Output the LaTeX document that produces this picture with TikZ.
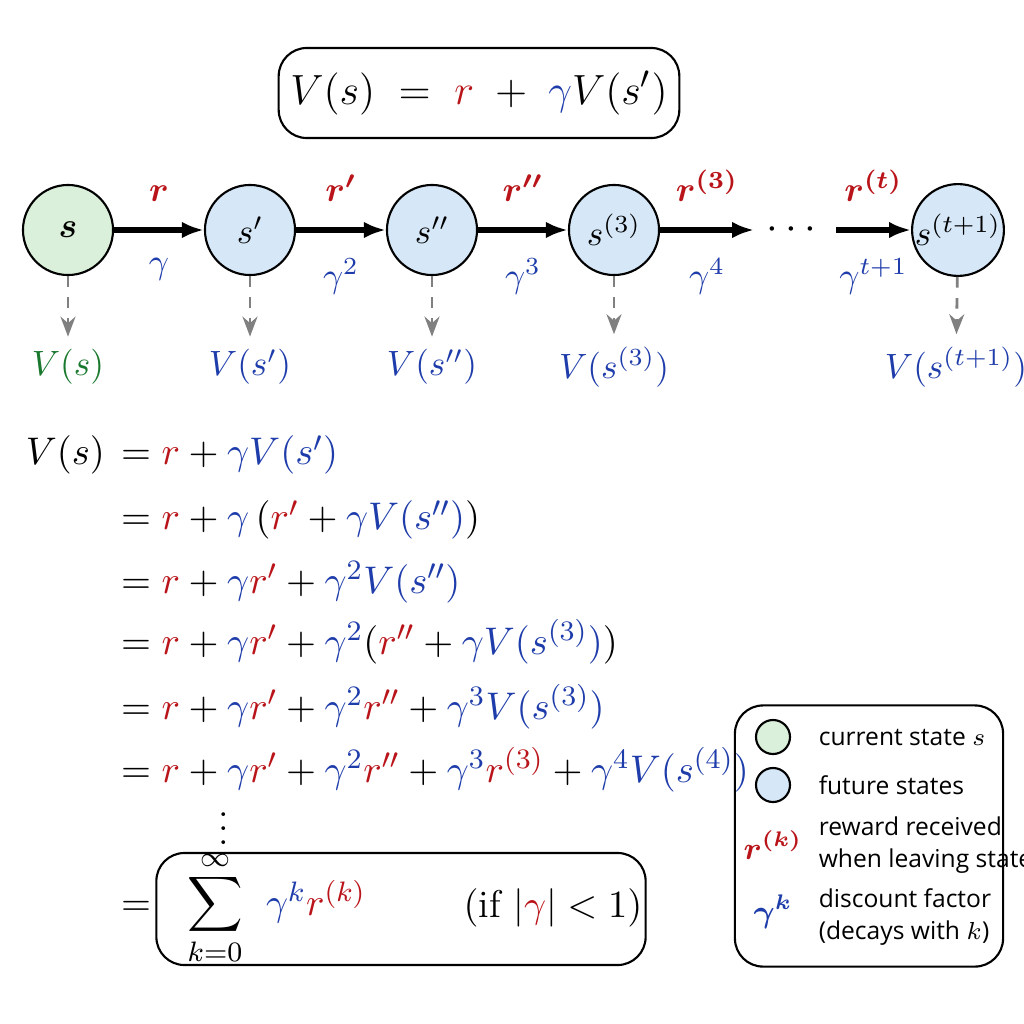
\documentclass[tikz,border=0pt]{standalone}
\usepackage{amsmath,bm}
\usepackage{fontspec}
\setsansfont{Open Sans}
\usetikzlibrary{arrows.meta,positioning}
\definecolor{myred}{RGB}{185,20,25}
\definecolor{myblue}{RGB}{30,60,170}
\definecolor{mygreen}{RGB}{25,120,45}
\definecolor{curfill}{RGB}{218,240,218}
\definecolor{futfill}{RGB}{214,232,248}
\newcommand{\rd}[1]{{\color{myred}#1}}
\newcommand{\bl}[1]{{\color{myblue}#1}}
\newcommand{\eqsize}{\fontsize{11}{13}\selectfont}
\begin{document}
\begin{tikzpicture}[x=0.01cm, y=-0.01cm, semithick
    , state/.style={circle, draw, minimum size=0.9cm, inner sep=0pt, font=\normalsize}
    , trans/.style={-{Latex[length=2.2mm]}, line width=1.5pt}
    , val/.style={-{Stealth[length=2mm]}, dashed, gray, thick}
    , eq/.style={anchor=west, inner sep=0pt, font=\eqsize}
    , legtext/.style={anchor=west, font=\sffamily\fontsize{7}{9}\selectfont, align=left}
    ]
  \useasboundingbox (0,0) rectangle (1024,1024);

  % top formula
  \node (top) [draw, rounded corners=8pt, minimum width=3.92cm, minimum height=0.9cm, font=\fontsize{12.5}{15}\selectfont]
       at (479,93) {$V(s) \;=\; \rd{r} \;+\; \bl{\gamma} V(s')$};

  % chain of states
  \node (s0) [state, fill=curfill] at (68,230)  {$\bm{s}$};
  \node (s1) [state, fill=futfill] at (250,230) {$s'$};
  \node (s2) [state, fill=futfill] at (432,230) {$s''$};
  \node (s3) [state, fill=futfill] at (614,230) {$s^{(3)}$};
  \node (dots) at (795,230) {\large$\cdots$};
  \node (st) [state, fill=futfill] at (958,230) {$s^{(t+1)}$};

  \draw [trans] (s0) -- node[above=4pt]{$\rd{\bm{r}}$} node[below=4pt]{$\bl{\gamma}$} (s1);
  \draw [trans] (s1) -- node[above=4pt]{$\rd{\bm{r'}}$} node[below=4pt]{$\bl{\gamma^2}$} (s2);
  \draw [trans] (s2) -- node[above=4pt]{$\rd{\bm{r''}}$} node[below=4pt]{$\bl{\gamma^3}$} (s3);
  \draw [trans] (s3) -- node[above=4pt]{$\rd{\bm{r^{(3)}}}$} node[below=4pt]{$\bl{\gamma^4}$} (dots);
  \draw [trans] (dots) -- node[above=4pt]{$\rd{\bm{r^{(t)}}}$} node[below=4pt]{$\bl{\gamma^{t+1}}$} (st);

  % values
  \node (v0) at (68,367)  {$\color{mygreen}V(s)$};
  \node (v1) at (250,367) {$\bl{V(s')}$};
  \node (v2) at (432,367) {$\bl{V(s'')}$};
  \node (v3) at (614,367) {$\bl{V(s^{(3)})}$};
  \node (vt) at (956,367) {$\bl{V(s^{(t+1)})}$};
  \foreach \i in {0,1,2,3,t}
    \draw [val] (s\i) -- (v\i);

  % derivation
  \node (lhs) [anchor=east, inner sep=0pt, font=\eqsize] at (106,455) {$V(s)$};
  \node (e1) [eq] at (120,455) {$= \rd{r} + \bl{\gamma V(s')}$};
  \node (e2) [eq] at (120,520) {$= \rd{r} + \bl{\gamma}\,(\rd{r'} + \bl{\gamma V(s'')})$};
  \node (e3) [eq] at (120,582) {$= \rd{r} + \bl{\gamma}\rd{r'} + \bl{\gamma^2 V(s'')}$};
  \node (e4) [eq] at (120,642) {$= \rd{r} + \bl{\gamma}\rd{r'} + \bl{\gamma^2}(\rd{r''} + \bl{\gamma V(s^{(3)})})$};
  \node (e5) [eq] at (120,707) {$= \rd{r} + \bl{\gamma}\rd{r'} + \bl{\gamma^2}\rd{r''} + \bl{\gamma^3 V(s^{(3)})}$};
  \node (e6) [eq] at (120,770) {$= \rd{r} + \bl{\gamma}\rd{r'} + \bl{\gamma^2}\rd{r''} + \bl{\gamma^3}\rd{r^{(3)}} + \bl{\gamma^4 V(s^{(4)})}$};
  \node (vd) [font=\eqsize] at (224,818) {$\vdots$};
  \node (e7) [eq] at (120,908) {$=$};
  \node (sumbox) [draw, rounded corners=8pt, minimum width=4.89cm, minimum height=1.12cm] at (401,909) {};
  \node (sum) [font=\eqsize, inner sep=0pt] at (215,908) {$\displaystyle\sum_{k=0}^{\infty}$};
  \node (term) [font=\eqsize] at (316,902) {$\bl{\gamma^k}\rd{r^{(k)}}$};
  \node (cond) [font=\eqsize] at (553,908) {$(\text{if } |\rd{\gamma}| < 1)$};

  % legend
  \node (leg) [draw, rounded corners=8pt, minimum width=2.68cm, minimum height=2.61cm] at (869,836) {};
  \node (lc) [circle, draw, fill=curfill, minimum size=0.34cm, inner sep=0pt] at (773,737) {};
  \node (lf) [circle, draw, fill=futfill, minimum size=0.34cm, inner sep=0pt] at (773,785) {};
  \node (lr) [font=\small] at (773,845) {$\rd{\bm{r^{(k)}}}$};
  \node (lg) [font=\small] at (773,912) {$\bl{\bm{\gamma^k}}$};
  \node [legtext] at (806,737) {current state $s$};
  \node [legtext] at (806,785) {future states};
  \node [legtext] at (806,845) {reward received\\when leaving state};
  \node [legtext] at (806,917) {discount factor\\(decays with $k$)};
\end{tikzpicture}
\end{document}
